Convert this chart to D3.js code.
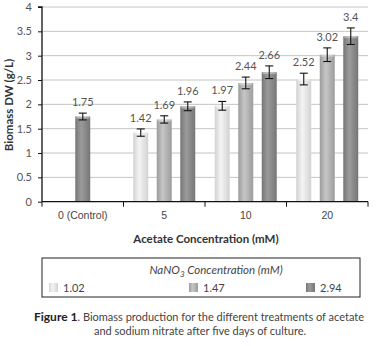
<!DOCTYPE html>
<html><head><meta charset="utf-8">
<script src="https://cdn.jsdelivr.net/npm/d3@7/dist/d3.min.js"></script>
<style>
body{margin:0;background:#fff;}
svg{display:block;font-family:Lato, "Open Sans", sans-serif;}
</style></head>
<body><svg id="c" width="378" height="346"></svg>
<script>
const categories = ["0 (Control)", "5", "10", "20"];
const seriesNames = ["1.02", "1.47", "2.94"];
// values per series across categories (null = not measured)
const s102 = [null, 1.42, 1.97, 2.52];
const s147 = [null, 1.69, 2.44, 3.02];
const s294 = [1.75, 1.96, 2.66, 3.4];
const e102 = [null, 0.075, 0.09, 0.12];
const e147 = [null, 0.075, 0.12, 0.14];
const e294 = [0.07, 0.09, 0.13, 0.17];
const yTicks = [0, 0.5, 1, 1.5, 2, 2.5, 3, 3.5, 4];

const values = [s102, s147, s294];
const errors = [e102, e147, e294];
const colors = [
  {edge:"#d2d2d2", mid:"#f4f4f4"},
  {edge:"#9c9c9c", mid:"#c6c6c6"},
  {edge:"#767676", mid:"#9b9b9b"}
];

const svg = d3.select("#c");
const defs = svg.append("defs");
colors.forEach((c,i)=>{
  const g = defs.append("linearGradient").attr("id","g"+i).attr("x1","0").attr("x2","1").attr("y1","0").attr("y2","0");
  g.append("stop").attr("offset","0%").attr("stop-color",c.edge);
  g.append("stop").attr("offset","40%").attr("stop-color",c.mid);
  g.append("stop").attr("offset","100%").attr("stop-color",c.edge);
});

const L = 42, R = 368, T = 7, B = 201.7;
const y = d3.scaleLinear().domain([0,4]).range([B,T]);
const x0 = d3.scaleBand().domain(categories).range([L,R]);
const x1 = d3.scaleBand().domain(seriesNames).range([0,x0.bandwidth()]).paddingInner(0.362).paddingOuter(0.415);

// gridlines
svg.append("g").selectAll("line").data(yTicks.filter(d=>d>0)).join("line")
  .attr("x1",L).attr("x2",R).attr("y1",d=>y(d)).attr("y2",d=>y(d))
  .attr("stroke","#c4c4c4").attr("stroke-width",1);

// bars
const bars = [];
categories.forEach((c,ci)=>{
  const present = seriesNames.map((s,si)=>si).filter(si=>values[si][ci]!=null);
  present.forEach(si=>{
    let bx = present.length===1 ? x0(c) + (x0.bandwidth()-x1.bandwidth())/2 : x0(c)+x1(seriesNames[si]);
    bars.push({c, si, v:values[si][ci], e:errors[si][ci], x:bx});
  });
});
const bw = x1.bandwidth();
const gb = svg.append("g");
bars.forEach(b=>{
  gb.append("rect").attr("x",b.x).attr("width",bw).attr("y",y(b.v)).attr("height",y(0)-y(b.v))
    .attr("fill",`url(#g${b.si})`);
  gb.append("rect").attr("x",b.x+1).attr("width",bw-2).attr("y",y(b.v)).attr("height",2)
    .attr("fill","#fff").attr("opacity",0.35);
  // error bar
  const cx = b.x+bw/2, t = y(b.v+b.e), bo = y(b.v-b.e);
  gb.append("line").attr("x1",cx).attr("x2",cx).attr("y1",t).attr("y2",bo).attr("stroke","#111").attr("stroke-width",1.1);
  gb.append("line").attr("x1",cx-4).attr("x2",cx+4).attr("y1",t).attr("y2",t).attr("stroke","#111").attr("stroke-width",1.1);
  gb.append("line").attr("x1",cx-4).attr("x2",cx+4).attr("y1",bo).attr("y2",bo).attr("stroke","#111").attr("stroke-width",1.1);
  gb.append("text").attr("x",cx).attr("y",t-7).attr("text-anchor","middle")
    .attr("font-size",11).attr("fill","#555").text(b.v);
});

// y axis
const ya = svg.append("g").attr("transform",`translate(${L},0)`)
  .call(d3.axisLeft(y).tickValues(yTicks).tickSize(4).tickPadding(6).tickFormat(d=>d));
ya.select(".domain").attr("stroke","#111").attr("stroke-width",1.3).attr("d",`M-4,${T}H0V${B}`);
ya.selectAll(".tick line").attr("stroke","#111");
ya.selectAll("text").attr("font-size",11).attr("fill","#555").attr("font-family","Lato, sans-serif");

// x axis
const xa = svg.append("g").attr("transform",`translate(0,${B})`)
  .call(d3.axisBottom(x0).tickValues([]).tickSize(0));
xa.select(".domain").attr("stroke","#111").attr("stroke-width",1.3).attr("d",`M${L},0H${R}`);
const xt = [L, ...categories.map(c=>x0(c)+x0.bandwidth())];
xa.selectAll(".xt").data(xt).join("line").attr("x1",d=>d).attr("x2",d=>d).attr("y1",0).attr("y2",5).attr("stroke","#111");
xa.selectAll(".xl").data(categories).join("text")
  .attr("x",c=>x0(c)+x0.bandwidth()/2).attr("y",17).attr("text-anchor","middle")
  .attr("font-size",10.5).attr("fill","#444").text(c=>c);

// axis titles
svg.append("text").attr("transform","translate(13,105) rotate(-90)").attr("text-anchor","middle")
  .attr("font-size",11.5).attr("font-weight","bold").attr("fill","#333").text("Biomass DW (g/L)");
svg.append("text").attr("x",206).attr("y",243).attr("text-anchor","middle")
  .attr("font-size",11.5).attr("font-weight","bold").attr("fill","#333").text("Acetate Concentration (mM)");

// legend
const lg = svg.append("g");
lg.append("rect").attr("x",42).attr("y",258).attr("width",318).attr("height",39)
  .attr("fill","#fff").attr("stroke","#222").attr("stroke-width",1);
const lt = lg.append("text").attr("x",216).attr("y",274).attr("text-anchor","middle")
  .attr("font-size",11.5).attr("font-style","italic").attr("fill","#444");
lt.append("tspan").text("NaNO");
lt.append("tspan").attr("font-size",8).attr("dy",3).text("3");
lt.append("tspan").attr("dy",-3).text("  Concentration (mM)");
const lx = [49, 189, 306];
seriesNames.forEach((s,i)=>{
  lg.append("rect").attr("x",lx[i]).attr("y",283).attr("width",9).attr("height",9).attr("fill",`url(#g${i})`);
  lg.append("text").attr("x",lx[i]+14).attr("y",292).attr("font-size",11).attr("fill","#444").text(s);
});

// caption
const c1 = svg.append("text").attr("x",199).attr("y",321).attr("text-anchor","middle").attr("font-size",11).attr("fill","#444");
c1.append("tspan").attr("font-weight","bold").attr("font-size",12).attr("fill","#222").text("Figure 1");
c1.append("tspan").text(". Biomass production for the different treatments of acetate");
svg.append("text").attr("x",200).attr("y",335).attr("text-anchor","middle").attr("font-size",11).attr("fill","#444")
  .text("and sodium nitrate after five days of culture.");
</script></body></html>
